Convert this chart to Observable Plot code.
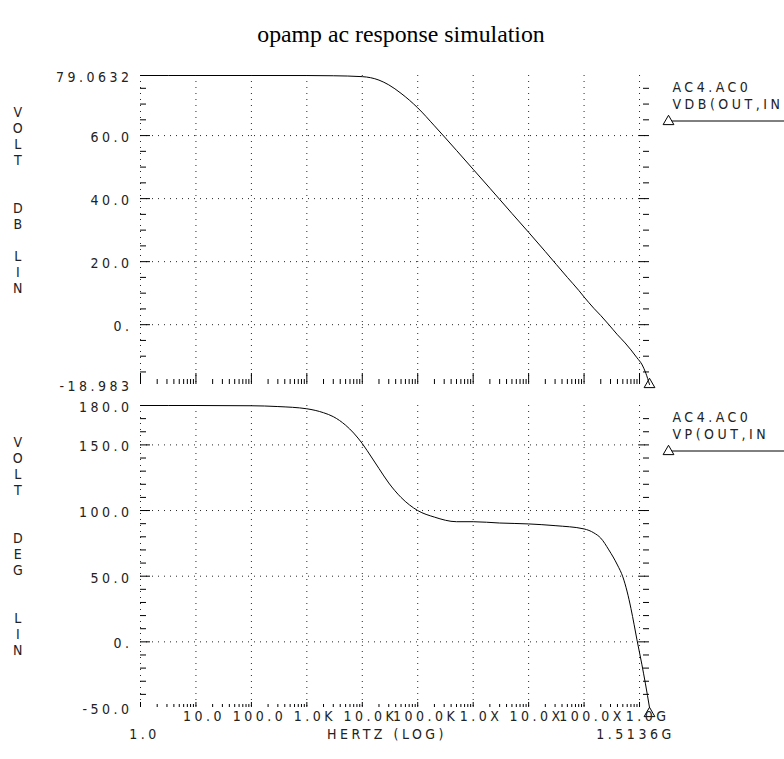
<!DOCTYPE html>
<html><head><meta charset="utf-8">
<script src="https://cdn.jsdelivr.net/npm/d3@7"></script>
<script src="https://cdn.jsdelivr.net/npm/@observablehq/plot@0.6"></script>
<style>
html,body{margin:0;padding:0;background:#fff;}
body{width:784px;height:759px;position:relative;overflow:hidden;}
#title{position:absolute;left:9px;top:21px;width:784px;text-align:center;font-family:"Liberation Serif","Times New Roman",serif;font-size:23.8px;color:#000;}
#top{position:absolute;left:0;top:0;}
#bot{position:absolute;left:0;top:390px;}
</style></head><body>
<div id="title">opamp ac response simulation</div>
<div id="top"></div>
<div id="bot"></div>
<script>
// ---------- data ----------
const freqMag = [1, 10, 100, 1e3, 3e3, 1e4, 2e4, 3e4, 5e4, 1e5, 2e5, 5e5, 1e6, 2e6, 5e6, 1e7, 2e7, 5e7, 8e7, 1e8, 1.5e8, 2e8, 2.8e8, 4e8, 5.5e8, 7e8, 9e8, 1.12e9, 1.3e9, 1.5136e9];
const magDb   = [79.0632, 79.0632, 79.06, 79.05, 78.98, 78.7, 77.6, 76.1, 73.4, 68.8, 63.1, 55.3, 49.3, 43.3, 35.3, 29.3, 23.2, 15.0, 10.9, 8.8, 5.2, 2.9, 0.0, -3.2, -5.8, -8.0, -10.5, -12.8, -15.4, -18.983];

const freqPh = [1, 10, 100, 300, 1e3, 2e3, 3e3, 5e3, 7e3, 1e4, 1.5e4, 2e4, 3e4, 5e4, 1e5, 2e5, 5e5, 1e6, 3e6, 1e7, 3e7, 1e8, 1.5e8, 2e8, 2.8e8, 4e8, 5e8, 6e8, 7e8, 8e8, 9e8, 1.1e9, 1.28e9, 1.5136e9];
const phaseDeg = [180, 180, 179.8, 179.2, 177.5, 174.5, 171.5, 165, 159, 151, 140, 132, 121, 110, 100, 95, 91.5, 91.5, 90.5, 89.8, 88.5, 86.0, 83, 79, 70, 58.5, 49.5, 38, 25.5, 13, 1.5, -17, -32, -50];

const xDomain = [1, 1.5136e9];
const magDomain = [-18.983, 79.0632];
const phDomain = [-50, 180];

const magTicks = [-18.983, 0, 20, 40, 60, 79.0632];
const magTickLabels = ["-18.983", "0.", "20.0", "40.0", "60.0", "79.0632"];
const magGrid = [0, 20, 40, 60];
const magMinor = [-15, -10, -5, 5, 10, 15, 25, 30, 35, 45, 50, 55, 65, 70, 75];

const phTicks = [-50, 0, 50, 100, 150, 180];
const phTickLabels = ["-50.0", "0.", "50.0", "100.0", "150.0", "180.0"];
const phGrid = [0, 50, 100, 150];
const phMinor = [-40, -30, -20, -10, 10, 20, 30, 40, 60, 70, 80, 90, 110, 120, 130, 140, 160, 170];

const decades = [1, 10, 100, 1e3, 1e4, 1e5, 1e6, 1e7, 1e8, 1e9];
const decadeLabels = ["10.0", "100.0", "1.0K", "10.0K", "100.0K", "1.0X", "10.0X", "100.0X", "1.0G"];
const endLabels = ["1.0", "1.5136G"];
const xTitle = "HERTZ (LOG)";

const magAxisTitle = ["V","O","L","T","","","D","B","","L","I","N"];
const phAxisTitle = ["V","O","L","T","","","D","E","G","","","L","I","N"];
const magLegend = ["AC4.AC0", "VDB(OUT,IN"];
const phLegend = ["AC4.AC0", "VP(OUT,IN"];

// ---------- layout ----------
const W = 784, ML = 140, MR = 135;
const FW = W - ML - MR;
const minorX = [];
for (const d of decades) for (let k = 2; k <= 9; k++) if (d * k <= xDomain[1]) minorX.push(d * k);

const magData = freqMag.map((f, i) => ({f, v: magDb[i]}));
const phData = freqPh.map((f, i) => ({f, v: phaseDeg[i]}));

const font = {fontFamily: "'DejaVu Sans Condensed','DejaVu Sans',sans-serif", fontSize: "14px", letterSpacing: "3.5px", overflow: "visible"};
const dotted = {stroke: "#000", strokeWidth: 1, strokeDasharray: "1,5", strokeOpacity: 0.85};
const txt = "#222";

function panel({data, yDomain, ticks, tickLabels, grid, minor, axisTitle, legend, height, mt, mb, xMajorLen, xMinorLen, bottomAxis, triDy}) {
  const FH = height - mt - mb;
  const last = data[data.length - 1];
  const marks = [
    Plot.ruleY(grid, {y: d => d, ...dotted}),
    Plot.ruleX(decades, {x: d => d, ...dotted}),
    Plot.tickY(grid, {y: d => d, insetRight: FW - 10, stroke: "#000"}),
    Plot.tickY(minor, {y: d => d, insetRight: FW - 6, stroke: "#000"}),
    Plot.tickY(grid, {y: d => d, insetLeft: FW - 10, stroke: "#000"}),
    Plot.tickY(minor, {y: d => d, insetLeft: FW - 6, stroke: "#000"}),
    Plot.tickX(decades, {x: d => d, insetTop: FH - xMajorLen, stroke: "#000"}),
    Plot.tickX(minorX, {x: d => d, insetTop: FH - xMinorLen, stroke: "#000"}),
    Plot.text(ticks, {y: d => d, text: (d, i) => tickLabels[i], frameAnchor: "left", textAnchor: "end", dx: -8, dy: 2, fill: txt}),
    Plot.text([axisTitle.map(c => c || "\u00a0").join("\n")], {text: d => d, frameAnchor: "top-left", textAnchor: "middle", lineAnchor: "top", lineHeight: 16 / 14, dx: -121, dy: 30, fill: txt}),
    Plot.text([legend.join("\n")], {text: d => d, frameAnchor: "top-right", textAnchor: "start", lineAnchor: "top", lineHeight: 17 / 14, dx: 23, dy: 4, fill: txt}),
    Plot.dot([0], {frameAnchor: "top-right", dx: 19, dy: 46, symbol: "triangle", r: 4, stroke: "#000", fill: "white", strokeWidth: 1}),
    Plot.line(data, {x: "f", y: "v", curve: "monotone-x", stroke: "#000", strokeWidth: 1}),
    Plot.dot([last], {x: "f", y: "v", symbol: "triangle", r: 4, stroke: "#000", fill: "none", strokeWidth: 1, dy: triDy}),
  ];
  if (bottomAxis) {
    marks.push(
      Plot.text(decades.slice(1), {x: d => d, text: (d, i) => decadeLabels[i], frameAnchor: "bottom", dy: 13, dx: 8, fill: txt}),
      Plot.text([xDomain[0]], {x: d => d, text: () => endLabels[0], frameAnchor: "bottom", dy: 31, dx: 4, fill: txt}),
      Plot.text([xDomain[1]], {x: d => d, text: () => endLabels[1], frameAnchor: "bottom", dy: 31, dx: -14, fill: txt}),
      Plot.text([xTitle], {text: d => d, frameAnchor: "bottom", dy: 31, dx: -8, fill: txt})
    );
  }
  const svg = Plot.plot({
    width: W, height, marginLeft: ML, marginRight: MR, marginTop: mt, marginBottom: mb,
    x: {type: "log", domain: xDomain, axis: null},
    y: {domain: yDomain, axis: null},
    style: font,
    marks
  });
  d3.select(svg).append("line")
    .attr("x1", W - MR + 23).attr("x2", W).attr("y1", mt + 46).attr("y2", mt + 46)
    .attr("stroke", "#000").attr("stroke-width", 1);
  return svg;
}

document.getElementById("top").append(panel({
  data: magData, yDomain: magDomain, ticks: magTicks, tickLabels: magTickLabels, grid: magGrid, minor: magMinor,
  axisTitle: magAxisTitle, legend: magLegend, height: 400, mt: 75, mb: 16, xMajorLen: 11, xMinorLen: 5, bottomAxis: false, triDy: 0
}));
document.getElementById("bot").append(panel({
  data: phData, yDomain: phDomain, ticks: phTicks, tickLabels: phTickLabels, grid: phGrid, minor: phMinor,
  axisTitle: phAxisTitle, legend: phLegend, height: 369, mt: 15, mb: 52, xMajorLen: 5, xMinorLen: 3, bottomAxis: true, triDy: 6
}));
</script>
</body></html>
